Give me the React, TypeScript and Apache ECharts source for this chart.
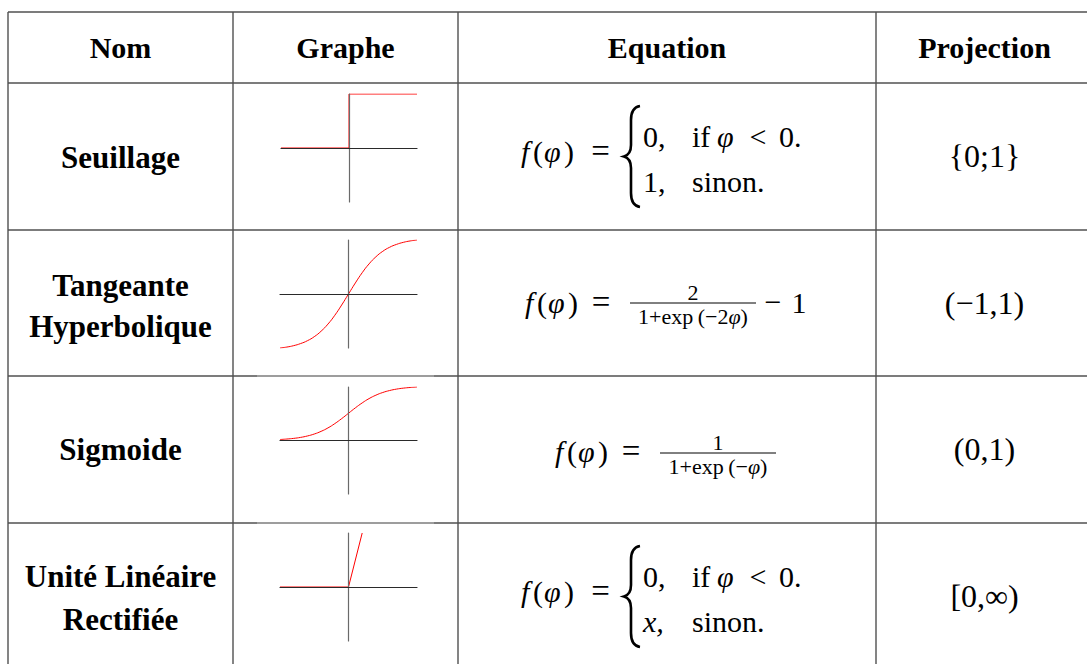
import React, { useEffect, useRef } from 'react';
import * as echarts from 'echarts';

// ---------- content ----------
const HEADERS = ['Nom', 'Graphe', 'Equation', 'Projection'];
const NAMES = [['Seuillage'], ['Tangeante', 'Hyperbolique'], ['Sigmoide'], ['Unité Linéaire', 'Rectifiée']];
const PROJECTIONS = ['{0;1}', '(−1,1)', '(0,1)', '[0,∞)'];

// ---------- graph values ----------
const STEP_X = [-1, 0, 0, 1];
const STEP_Y = [0, 0, 1, 1];
const STEP_RANGE = [-1, 1, -1, 1];

const TANH_X = [-2, -1.8, -1.6, -1.4, -1.2, -1, -0.8, -0.6, -0.4, -0.2, 0, 0.2, 0.4, 0.6, 0.8, 1, 1.2, 1.4, 1.6, 1.8, 2];
const TANH_Y = [-0.964, -0.947, -0.922, -0.885, -0.834, -0.762, -0.664, -0.537, -0.38, -0.197, 0, 0.197, 0.38, 0.537, 0.664, 0.762, 0.834, 0.885, 0.922, 0.947, 0.964];
const TANH_RANGE = [-2, 2, -0.964, 0.964];

const SIG_X = [-4, -3.6, -3.2, -2.8, -2.4, -2, -1.6, -1.2, -0.8, -0.4, 0, 0.4, 0.8, 1.2, 1.6, 2, 2.4, 2.8, 3.2, 3.6, 4];
const SIG_Y = [0.018, 0.027, 0.039, 0.057, 0.083, 0.119, 0.168, 0.231, 0.31, 0.401, 0.5, 0.599, 0.69, 0.769, 0.832, 0.881, 0.917, 0.943, 0.961, 0.973, 0.982];
const SIG_RANGE = [-4, 4, -0.982, 0.982];

const RELU_X = [-5, 0, 1];
const RELU_Y = [0, 0, 1];
const RELU_RANGE = [-5, 5, -1, 1];

const BRACE_D = 'M17 1 C11 2 8 6 8 15 L8 40 C8 46 6 50 1 51.5 C6 53 8 57 8 63 L8 88 C8 97 11 101 17 102';
echarts.graphic.registerShape('brace', echarts.graphic.extendPath(BRACE_D, {}));

const FF = '"Liberation Serif", "Times New Roman", serif';

function txt(text: string, x: number, y: number, font: string, align = 'center', extra: any = {}) {
  return {
    type: 'text',
    x,
    y,
    z: 10,
    silent: true,
    style: {
      text,
      font,
      fill: '#000',
      align,
      verticalAlign: 'middle',
      textAlign: align,
      textVerticalAlign: 'middle',
      ...extra,
    },
  };
}

function hline(x1: number, x2: number, y: number, color = '#505050', w = 1.4) {
  return { type: 'line', z: 1, silent: true, shape: { x1, y1: y, x2, y2: y }, style: { stroke: color, lineWidth: w } };
}
function vline(x: number, y1: number, y2: number, color = '#505050', w = 1.4) {
  return { type: 'line', z: 1, silent: true, shape: { x1: x, y1, x2: x, y2 }, style: { stroke: color, lineWidth: w } };
}

const RM = `30px ${FF}`;
const IT = `italic 30px ${FF}`;

function fphi(x0: number, y: number) {
  return [
    txt('f', x0, y, IT, 'left'),
    txt('(', x0 + 12, y, RM, 'left'),
    txt('φ', x0 + 23, y, IT, 'left'),
    txt(')', x0 + 43, y, RM, 'left'),
  ];
}

function cases(rowTop: number, second: string, secondItalic: boolean) {
  const y0 = rowTop;
  const yMain = y0 + 68;
  const y1 = y0 + 53.5;
  const y2 = y0 + 98.5;
  return [
    ...fphi(521, yMain),
    txt('=', 600.5, yMain, `33px ${FF}`, 'center'),
    { type: 'brace', x: 623, y: y0 + 22, z: 10, silent: true, style: { fill: 'none', stroke: '#000', lineWidth: 2.6 } },
    txt('0,', 643, y1, RM, 'left'),
    txt('if', 692, y1, RM, 'left'),
    txt('φ', 717, y1, IT, 'left'),
    txt('<', 758, y1, RM, 'center'),
    txt('0.', 779, y1, RM, 'left'),
    txt(second, 643, y2, secondItalic ? IT : RM, 'left'),
    txt('sinon.', 692, y2, RM, 'left'),
  ];
}

const RICH = {
  rm: { fontFamily: FF, fontSize: 22, fill: '#000' },
  it: { fontFamily: FF, fontSize: 22, fontStyle: 'italic', fill: '#000' },
};

function buildGraphic() {
  const g: any[] = [];
  // table rules
  const rowsY = [12, 83, 230, 376, 523];
  rowsY.forEach((y) => g.push(hline(8, 1087, y)));
  [376, 523].forEach((y) => g.push(hline(257, 434, y, '#a8a8a8', 1.4)));
  [8, 233, 458, 876].forEach((x) => g.push(vline(x, 12, 664)));

  // headers
  const hx = [120.5, 345.5, 667, 984.5];
  HEADERS.forEach((h, i) => g.push(txt(h, hx[i], 47, `bold 30px ${FF}`)));

  // names
  const nameY = [[157], [285, 326], [449], [576, 619]];
  NAMES.forEach((lines, i) => lines.forEach((l, j) => g.push(txt(l, 120.5, nameY[i][j], `bold 31px ${FF}`))));

  // projections
  const projY = [156, 303, 449, 596];
  PROJECTIONS.forEach((p, i) => g.push(txt(p, 984.5, projY[i], `32px ${FF}`)));

  // equations
  g.push(...cases(83, '1,', false));
  g.push(...cases(523, 'x,', true));

  // tanh
  g.push(...fphi(525, 302));
  g.push(txt('=', 601, 302, `33px ${FF}`));
  g.push(hline(630, 756, 303, '#000', 1));
  g.push(txt('2', 693, 292, `22px ${FF}`));
  g.push(txt('{rm|1+exp\u2009(−2}{it|φ}{rm|)}', 693, 316, `22px ${FF}`, 'center', { rich: RICH }));
  g.push(txt('−', 773, 301, RM));
  g.push(txt('1', 799, 302, RM));

  // sigmoid
  g.push(...fphi(555, 451));
  g.push(txt('=', 631, 451, `33px ${FF}`));
  g.push(hline(660, 776, 453, '#000', 1));
  g.push(txt('1', 718, 442, `22px ${FF}`));
  g.push(txt('{rm|1+exp\u2009(−}{it|φ}{rm|)}', 718, 466, `22px ${FF}`, 'center', { rich: RICH }));

  return g;
}

const GRAPHS = [
  { xs: STEP_X, ys: STEP_Y, r: STEP_RANGE, smooth: false, box: [281, 94, 136, 108] },
  { xs: TANH_X, ys: TANH_Y, r: TANH_RANGE, smooth: true, box: [280, 240, 137, 108] },
  { xs: SIG_X, ys: SIG_Y, r: SIG_RANGE, smooth: true, box: [280, 387, 137, 107] },
  { xs: RELU_X, ys: RELU_Y, r: RELU_RANGE, smooth: false, box: [280, 533, 137, 108] },
];

export default function App() {
  const ref = useRef<HTMLDivElement>(null);
  useEffect(() => {
    if (!ref.current) return;
    const chart = echarts.init(ref.current, undefined, { renderer: 'svg' });
    const option: any = {
      animation: false,
      backgroundColor: '#ffffff',
      grid: GRAPHS.map((gr) => ({
        left: gr.box[0],
        top: gr.box[1],
        width: gr.box[2],
        height: gr.box[3],
        outerBoundsMode: 'none',
      })),
      xAxis: GRAPHS.map((gr, i) => ({
        type: 'value',
        gridIndex: i,
        min: gr.r[0],
        max: gr.r[1],
        zlevel: 1,
        z: 8,
        axisLine: { show: true, onZero: true, lineStyle: { color: '#2a2a2a', width: 1.2 } },
        axisTick: { show: false },
        axisLabel: { show: false },
        splitLine: { show: false },
      })),
      yAxis: GRAPHS.map((gr, i) => ({
        type: 'value',
        gridIndex: i,
        min: gr.r[2],
        max: gr.r[3],
        zlevel: 1,
        z: 8,
        axisLine: { show: true, onZero: true, lineStyle: { color: '#6a6a6a', width: 1.2 } },
        axisTick: { show: false },
        axisLabel: { show: false },
        splitLine: { show: false },
      })),
      series: GRAPHS.map((gr, i) => ({
        type: 'line',
        xAxisIndex: i,
        yAxisIndex: i,
        data: gr.xs.map((x, k) => [x, gr.ys[k]]),
        showSymbol: false,
        symbol: 'none',
        smooth: gr.smooth ? 0.5 : false,
        clip: true,
        zlevel: 0,
        z: 0,
        lineStyle: { color: '#ff0000', width: 1 },
        silent: true,
      })),
      graphic: buildGraphic(),
    };
    chart.setOption(option);
    return () => chart.dispose();
  }, []);
  return (
    <div
      ref={ref}
      style={{ position: 'fixed', left: 0, top: 0, width: 1087, height: 664, background: '#fff' }}
    />
  );
}
